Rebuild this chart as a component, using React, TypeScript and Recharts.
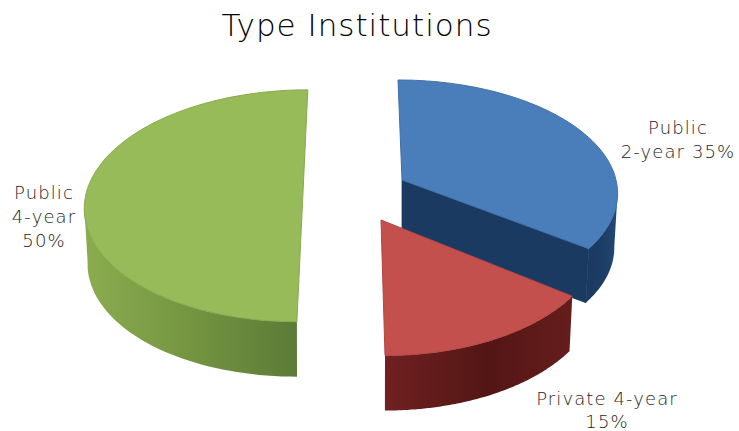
import React from 'react';
import { PieChart, Pie } from 'recharts';

const categories = ['Public 2-year', 'Private 4-year', 'Public 4-year'];
const shares = [35, 15, 50];
const labelLines = [['Public', '2-year 35%'], ['Private 4-year', '15%'], ['Public', '4-year', '50%']];
const chartTitle = 'Type Institutions';

const data = categories.map((name, i) => ({ name, value: shares[i] }));

const CX = 350;
const CY = 200;
const FONT = '"DejaVu Sans", sans-serif';

// exploded 3D look of each slice: offset from the pie centre and projection
const looks = [
  { dx: 52, dy: -20, rx: 214, ry: 110, p: 0.1, s: -4.4, depth: 54, face: '#4a7ebb', rim: '#3f6fa8', w0: '#1b3a62', wm: '#1c3d66', w1: '#214a76', cut: '#1b3a62' },
  { dx: 31, dy: 20, rx: 220, ry: 122, p: 0.1, s: -3.6, depth: 55, face: '#c4504e', rim: '#b24643', w0: '#6f2120', wm: '#531615', w1: '#661d1c', cut: '#5e1a1a' },
  { dx: -46, dy: -29, rx: 208, ry: 105.5, p: 0.3, s: 5, depth: 55, face: '#97bb58', rim: '#87a94c', w0: '#8bac4e', wm: '#729240', w1: '#5c7b37', cut: '#5c7b37' },
];
const labelSpots = [
  { x: 678, y: 134, gap: 24 },
  { x: 607, y: 405, gap: 23 },
  { x: 44, y: 199, gap: 24 },
];

function project(look: any, cx: number, cy: number, scale: number, deg: number) {
  const a = (deg * Math.PI) / 180;
  const u = Math.cos(a);
  const v = Math.sin(a);
  const k = 1 / (1 + look.p * v);
  return {
    x: cx + look.dx + scale * (look.rx * u + look.s * v) * k,
    y: cy + look.dy - scale * look.ry * v * k,
    v,
  };
}

const toPath = (pts: { x: number; y: number }[]) =>
  pts.map((q, i) => `${i ? 'L' : 'M'}${q.x.toFixed(1)} ${q.y.toFixed(1)}`).join(' ') + ' Z';

function Slice3D(props: any) {
  const { cx, cy, startAngle, endAngle, outerRadius, name, payload } = props;
  const idx = categories.indexOf(name ?? payload?.name);
  const look = looks[idx];
  const scale = outerRadius / 100;
  const arc: { x: number; y: number; v: number }[] = [];
  const n = 120;
  for (let i = 0; i <= n; i++) {
    arc.push(project(look, cx, cy, scale, startAngle + ((endAngle - startAngle) * i) / n));
  }
  const apex = { x: cx + look.dx, y: cy + look.dy };
  const front = arc.filter((q) => q.v <= -look.p);
  const down = (q: { x: number; y: number }) => ({ x: q.x + (apex.x - q.x) * 0.015, y: q.y + look.depth });
  const wall = [...front, ...front.slice().reverse().map(down)];
  const gid = `wall-${idx}`;
  const last = arc[arc.length - 1];
  return (
    <g>
      <defs>
        <linearGradient id={gid} x1="0" y1="0" x2="1" y2="0">
          <stop offset="0%" stopColor={look.w0} />
          <stop offset="55%" stopColor={look.wm} />
          <stop offset="100%" stopColor={look.w1} />
        </linearGradient>
      </defs>
      <path d={toPath(wall)} fill={`url(#${gid})`} />
      {idx === 0 && (
        <path d={toPath([apex, last, down(last), down(apex)])} fill={look.cut} stroke={look.cut} strokeWidth={0.8} />
      )}
      <path d={toPath([apex, ...arc])} fill={look.face} stroke={look.rim} strokeWidth={1} />
    </g>
  );
}

function SliceLabel(props: any) {
  const idx = categories.indexOf(props.name ?? props.payload?.name);
  const spot = labelSpots[idx];
  return (
    <text
      textAnchor="middle"
      fill="#222"
      fontFamily={FONT}
      fontSize={18}
      fontWeight={300}
      letterSpacing={1.1}
      style={{ opacity: 0.99 }}
    >
      {labelLines[idx].map((line, i) => (
        <tspan key={line} x={spot.x} y={spot.y + i * spot.gap}>
          {line}
        </tspan>
      ))}
    </text>
  );
}

export default function App() {
  return (
    <div style={{ position: 'absolute', left: 0, top: 0, width: 739, height: 431, background: '#fff', overflow: 'hidden' }}>
      <PieChart width={739} height={431} margin={{ top: 0, right: 0, bottom: 0, left: 0 }}>
        <Pie
          data={data}
          dataKey="value"
          nameKey="name"
          cx={CX}
          cy={CY}
          outerRadius={100}
          startAngle={90}
          endAngle={-270}
          paddingAngle={0}
          stroke="none"
          shape={Slice3D}
          label={SliceLabel}
          labelLine={false}
          isAnimationActive={false}
        />
      </PieChart>
      <div
        style={{
          position: 'absolute',
          left: 0,
          width: 714,
          top: 3,
          textAlign: 'center',
          fontFamily: FONT,
          fontSize: 31,
          fontWeight: 300,
          letterSpacing: 1,
          color: '#000',
          lineHeight: '44px',
          opacity: 0.99,
        }}
      >
        {chartTitle}
      </div>
    </div>
  );
}
